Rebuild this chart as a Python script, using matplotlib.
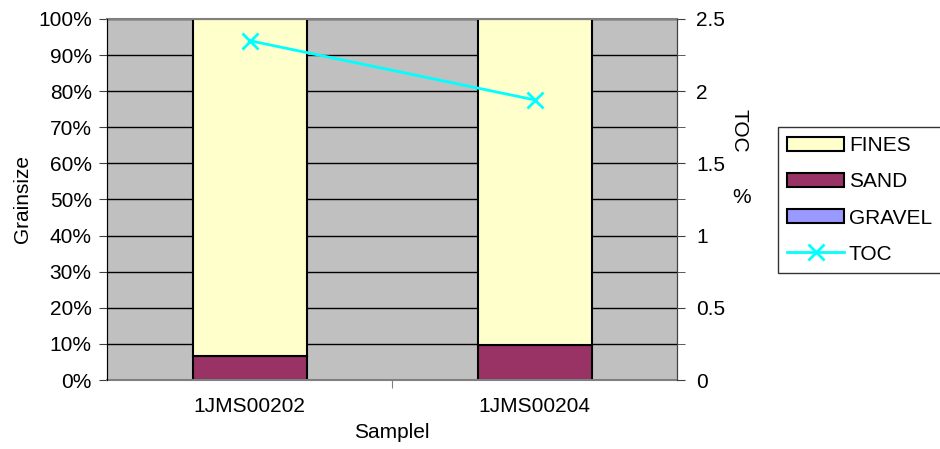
import numpy as np
import matplotlib
matplotlib.use('Agg')
from matplotlib import pyplot as plt
from matplotlib.ticker import MultipleLocator, PercentFormatter

plt.rcParams['font.family'] = ['Liberation Sans', 'DejaVu Sans']
plt.rcParams['font.size'] = 15

# Data
samples = ['1JMS00202', '1JMS00204']
gravel = [0.0, 0.0]
sand = [6.6, 9.8]
fines = [100 - g - s for g, s in zip(gravel, sand)]
toc = [2.35, 1.94]

fig = plt.figure(figsize=(9.4, 4.49), dpi=100)
ax = fig.add_axes([107 / 940, 1 - 380 / 449, 570 / 940, 361 / 449])
ax.set_facecolor('#C0C0C0')

x = np.arange(len(samples))
w = 0.4
edge = dict(edgecolor='black', linewidth=1.5, width=w)
gravel_bars = ax.bar(x, gravel, color='#9999FF', label='GRAVEL', **edge)
sand_bars = ax.bar(x, sand, bottom=gravel, color='#993366', label='SAND', **edge)
fines_bars = ax.bar(x, fines, bottom=np.add(gravel, sand), color='#FFFFCC', label='FINES', **edge)

ax.set_ylim(0, 100)
ax.set_xlim(-0.5, 1.5)
ax.yaxis.set_major_locator(MultipleLocator(10))
ax.yaxis.set_major_formatter(PercentFormatter(decimals=0))
ax.grid(axis='y', color='black', linewidth=1)
ax.set_axisbelow(True)

ax.set_xticks([0.5])
ax.set_xticklabels([''])
ax.set_xticks(x, minor=True)
ax.set_xticklabels(samples, minor=True)
ax.tick_params(axis='x', which='minor', length=0, pad=12)
ax.tick_params(axis='x', which='major', length=6, color='#808080')
ax.tick_params(axis='y', length=6, color='#404040', pad=5)
ax.set_xlabel('Samplel', labelpad=5)
ax.set_ylabel('Grainsize', labelpad=4)

for side in ['top', 'bottom']:
    ax.spines[side].set_color('#808080')
    ax.spines[side].set_linewidth(1.5)
ax.spines['left'].set_color('#404040')
ax.spines['right'].set_color('#404040')

ax2 = ax.twinx()
toc_line, = ax2.plot(x, toc, color='#00FFFF', linewidth=2, marker='x',
                     markersize=11, markeredgewidth=2, label='TOC')
ax2.set_ylim(0, 2.5)
ax2.yaxis.set_major_locator(MultipleLocator(0.5))
ax2.yaxis.set_minor_locator(MultipleLocator(0.25))
ax2.yaxis.set_major_formatter(lambda v, p: '%g' % v)
ax2.tick_params(axis='y', which='both', length=6, color='#404040', pad=8)
ax2.spines['right'].set_color('#404040')
ax2.spines['top'].set_visible(False)
ax2.spines['bottom'].set_visible(False)

fig.text(739 / 940, 1 - 131 / 449, 'TOC', rotation=270, ha='center', va='center')
fig.text(742 / 940, 1 - 198 / 449, '%', ha='center', va='center')

leg = fig.legend([fines_bars, sand_bars, gravel_bars, toc_line],
                 ['FINES', 'SAND', 'GRAVEL', 'TOC'],
                 loc='upper left', bbox_to_anchor=(778 / 940, 1 - 127 / 449),
                 frameon=True, fancybox=False, edgecolor='black',
                 handlelength=2.7, handleheight=0.65, labelspacing=0.82,
                 borderpad=0.45, handletextpad=0.25, borderaxespad=0)
leg.get_frame().set_linewidth(1)

fig.savefig('out.png', dpi=100)
